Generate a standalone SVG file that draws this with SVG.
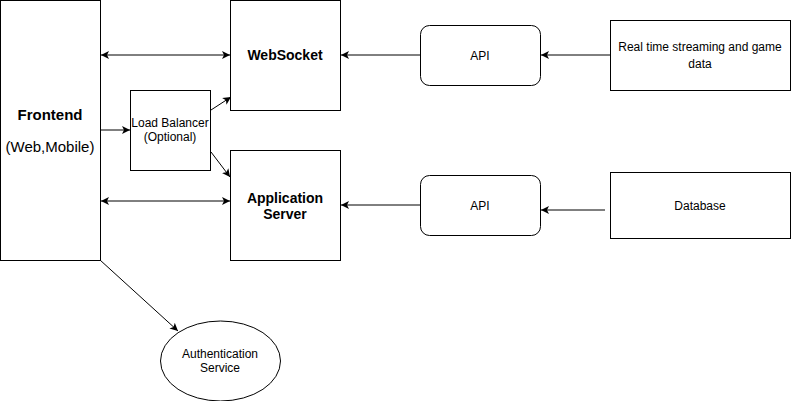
<svg xmlns="http://www.w3.org/2000/svg" width="791" height="401" viewBox="0 0 791 401">
<style>
.b{fill:#fff;stroke:#000;stroke-width:1}
.t{font-family:"Liberation Sans",Arial,sans-serif;font-size:12px;fill:#000;text-anchor:middle}
.bold{font-weight:bold;font-size:14px}
.c{stroke:#000;stroke-width:1;fill:none;marker-end:url(#a)}
.d{marker-start:url(#s)}
</style>
<defs>
<marker id="a" markerWidth="10" markerHeight="10" refX="8" refY="5" orient="auto" markerUnits="userSpaceOnUse">
<path d="M0,1 L8,5 L0,9 L2,5 Z" fill="#000"/>
</marker>
<marker id="s" markerWidth="10" markerHeight="10" refX="0" refY="5" orient="auto" markerUnits="userSpaceOnUse">
<path d="M8,1 L0,5 L8,9 L6,5 Z" fill="#000"/>
</marker>
</defs>
<rect width="791" height="401" fill="#fff"/>
<g id="connectors">
<path class="c d" d="M101,55 H230"/>
<path class="c d" d="M101,201 H230"/>
<path class="c" d="M100,130 H130"/>
<path class="c" d="M211,110 L231,97"/>
<path class="c" d="M211,152 L230,177"/>
<path class="c" d="M420,55 H341"/>
<path class="c" d="M610,55 H541"/>
<path class="c" d="M420,205 H341"/>
<path class="c" d="M605,210 H541"/>
<path class="c" d="M100,260 L178,331"/>
</g>
<g id="frontend">
<rect class="b" x="0.5" y="0.5" width="100" height="260"/>
<text class="t bold" x="50" y="120" style="font-size:15px">Frontend</text>
<text class="t" x="50" y="152" style="font-size:15px">(Web,Mobile)</text>
</g>
<g id="websocket">
<rect class="b" x="230.5" y="0.5" width="110" height="110"/>
<text class="t bold" x="285" y="60">WebSocket</text>
</g>
<g id="appserver">
<rect class="b" x="230.5" y="150.5" width="110" height="110"/>
<text class="t bold" x="285" y="203">Application</text>
<text class="t bold" x="285" y="219">Server</text>
</g>
<g id="loadbalancer">
<rect class="b" x="130.5" y="90.5" width="80" height="80"/>
<text class="t" x="170" y="127">Load Balancer</text>
<text class="t" x="170" y="141">(Optional)</text>
</g>
<g id="api1">
<rect class="b" x="420.5" y="25.5" width="120" height="60" rx="9"/>
<text class="t" x="480" y="60">API</text>
</g>
<g id="api2">
<rect class="b" x="420.5" y="175.5" width="120" height="60" rx="9"/>
<text class="t" x="480" y="210">API</text>
</g>
<g id="realtime">
<rect class="b" x="610.5" y="20.5" width="180" height="70"/>
<text class="t" x="700" y="51">Real time streaming and game</text>
<text class="t" x="700" y="68">data</text>
</g>
<g id="database">
<rect class="b" x="610.5" y="172.5" width="180" height="66"/>
<text class="t" x="700" y="210">Database</text>
</g>
<g id="auth">
<ellipse class="b" cx="220.5" cy="361" rx="60" ry="40"/>
<text class="t" x="220" y="358">Authentication</text>
<text class="t" x="220" y="372">Service</text>
</g>
</svg>
